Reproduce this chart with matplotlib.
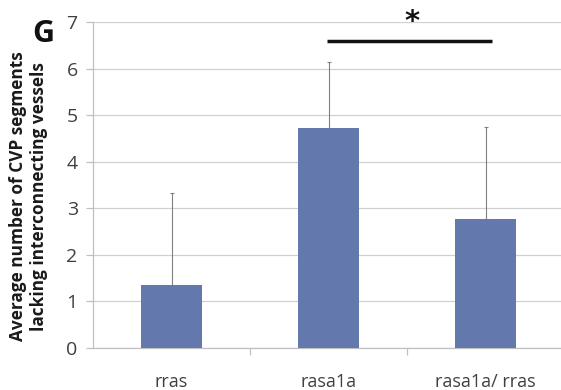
import matplotlib
matplotlib.use("Agg")
import matplotlib.pyplot as plt

categories = ["rras", "rasa1a", "rasa1a/ rras"]
means = [1.35, 4.72, 2.77]
err_upper = [1.98, 1.42, 1.97]
sig_pair = (1, 2)
sig_level = 6.59
yticks = [0, 1, 2, 3, 4, 5, 6, 7]

plt.rcParams['font.family'] = ['Open Sans', 'DejaVu Sans']

fig = plt.figure(figsize=(5.61, 3.9), dpi=100)
ax = fig.add_axes([93/561, 42/390, 468/561, 326/390])

x = list(range(len(categories)))
ax.bar(x, means, width=0.39, color='#6378AC', zorder=3)
ax.errorbar(x, means, yerr=[[0]*len(means), err_upper], fmt='none',
            ecolor='#808080', elinewidth=0.8, capsize=1.5, capthick=0.8, zorder=2)

ax.set_ylim(0, 7)
ax.set_xlim(-0.5, 2.48)
ax.set_yticks(yticks)
ax.yaxis.grid(True, color='#d0d0d0', linewidth=0.9, zorder=0)
ax.set_axisbelow(True)
ax.set_xticks(x)
ax.set_xticklabels(categories, fontsize=13, color='#404040')
ax.tick_params(axis='x', length=0, pad=18)
ax.set_xticks([0.5, 1.5], minor=True)
ax.tick_params(axis='x', which='minor', length=5, color='#c0c0c0', width=0.9)
ax.tick_params(axis='y', length=5, color='#c0c0c0', width=0.9, labelsize=14,
               labelcolor='#404040', pad=6)
for s in ['top', 'right']:
    ax.spines[s].set_visible(False)
for s in ['left', 'bottom']:
    ax.spines[s].set_color('#c0c0c0')
    ax.spines[s].set_linewidth(0.9)

ax.set_ylabel("Average number of CVP segments\nlacking interconnecting vessels",
              fontsize=12.4, fontweight='bold', color='#1a1a1a',
              linespacing=1.22)
ax.yaxis.set_label_coords(-0.096, 0.466)

ax.plot([sig_pair[0] - 0.01, sig_pair[1] + 0.04], [sig_level, sig_level],
        color='#111111', linewidth=2.5, clip_on=False, solid_capstyle='butt')
ax.text((sig_pair[0] + sig_pair[1]) / 2 + 0.03, sig_level + 0.42, "*",
        fontsize=21, fontweight='bold', ha='center', va='center', color='#111111',
        family='DejaVu Sans')

fig.text(32/561, 1 - 34/390, "G", fontsize=22, fontweight='bold',
         ha='left', va='center', color='#111111')

fig.savefig("out.png", dpi=100)
